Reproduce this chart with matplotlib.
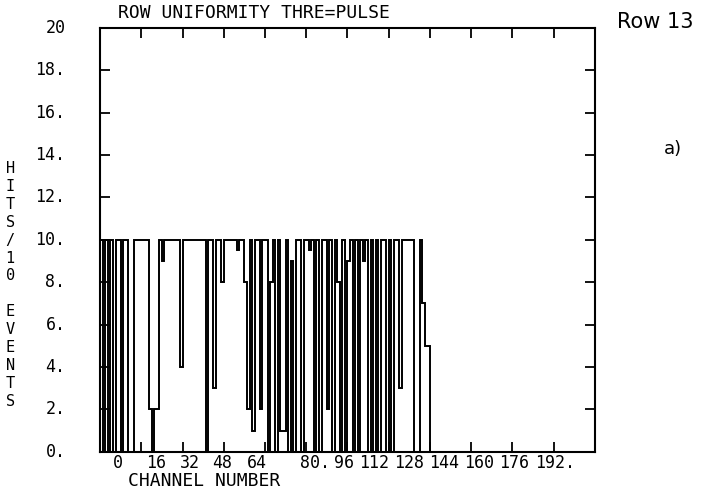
import numpy as np
import matplotlib
matplotlib.use("Agg")
import matplotlib.pyplot as plt
import matplotlib.transforms as mtransforms

# hits per channel, row 13 (channels 0..127)
hits = [10, 0, 10, 0, 10, 0, 10, 10, 0, 10,
        10, 0, 0, 10, 10, 10, 10, 10, 10, 2,
        0, 2, 2, 10, 9, 10, 10, 10, 10, 10,
        10, 4, 10, 10, 10, 10, 10, 10, 10, 10,
        10, 0, 10, 10, 3, 10, 10, 8, 10, 10,
        10, 10, 10, 9.5, 10, 10, 8, 2, 10, 1,
        10, 10, 2, 10, 10, 0, 8, 10, 0, 10,
        1, 1, 10, 0, 9, 0, 10, 10, 0, 10,
        10, 9.5, 10, 0, 10, 0, 10, 10, 2, 10,
        0, 10, 8, 0, 10, 0, 9, 10, 0, 10,
        0, 10, 9, 10, 0, 10, 0, 10, 0, 10,
        10, 0, 10, 0, 10, 10, 3, 10, 10, 10,
        10, 10, 0, 0, 10, 7, 5, 5]
kanaly = np.arange(len(hits) + 1)

x_ticks = [16, 32, 48, 64, 80, 96, 112, 128, 144, 160, 176]
y_ticks = [2, 4, 6, 8, 10, 12, 14, 16, 18]
x_labels = ["0", "16", "32", "48", "64", "80.", "96", "112", "128", "144", "160", "176", "192."]
# the printer crammed the labels together, so they sit off the ticks
x_label_pos = [7, 21.7, 35, 47.3, 61, 83.4, 94.8, 106.5, 120, 133.5, 147, 160.6, 176.5]
y_labels = ["0.", "2.", "4.", "6.", "8.", "10.", "12.", "14.", "16.", "18.", "20"]
y_label_val = [0, 2, 4, 6, 8, 10, 12, 14, 16, 18, 20]

mono = "DejaVu Sans Mono"

fig = plt.figure(figsize=(7.2, 4.96), dpi=100)
ax = fig.add_axes([0.139, 0.089, 0.687, 0.855])

ax.stairs(hits, kanaly, baseline=0, color="black", lw=1.4)

ax.set_xlim(0, 192)
ax.set_ylim(0, 20)
for s in ax.spines.values():
    s.set_linewidth(1.5)
ax.set_xticks(x_ticks)
ax.set_yticks(y_ticks)
ax.tick_params(direction="in", length=7, width=1.3, top=True, right=True,
               labelbottom=False, labelleft=False)

# crude printer-style tick labels
trx = mtransforms.blended_transform_factory(ax.transData, ax.transAxes)
for lab, pos in zip(x_labels, x_label_pos):
    ax.text(pos, -0.026, lab, transform=trx, ha="center", va="center",
            family=mono, fontsize=12)
try_ = mtransforms.blended_transform_factory(ax.transAxes, ax.transData)
for lab, val in zip(y_labels, y_label_val):
    ax.text(-0.07, val, lab, transform=try_, ha="right", va="center",
            family=mono, fontsize=12)

ax.text(0.036, 1.035, "ROW UNIFORMITY THRE=PULSE", transform=ax.transAxes,
        ha="left", va="center", family=mono, fontsize=13)
ax.text(0.057, -0.068, "CHANNEL NUMBER", transform=ax.transAxes,
        ha="left", va="center", family=mono, fontsize=13)

fig.text(0.014, 0.675, "\n".join("HITS/10") + "\n\n" + "\n".join("EVENTS"),
         ha="center", va="top", family=mono, fontsize=11, linespacing=1.24)

fig.text(0.91, 0.955, "Row 13", ha="center", va="center", fontsize=15,
         family="DejaVu Sans")
fig.text(0.935, 0.70, "a)", ha="center", va="center", fontsize=13,
         family="DejaVu Sans")

fig.savefig("out.png", dpi=100)
